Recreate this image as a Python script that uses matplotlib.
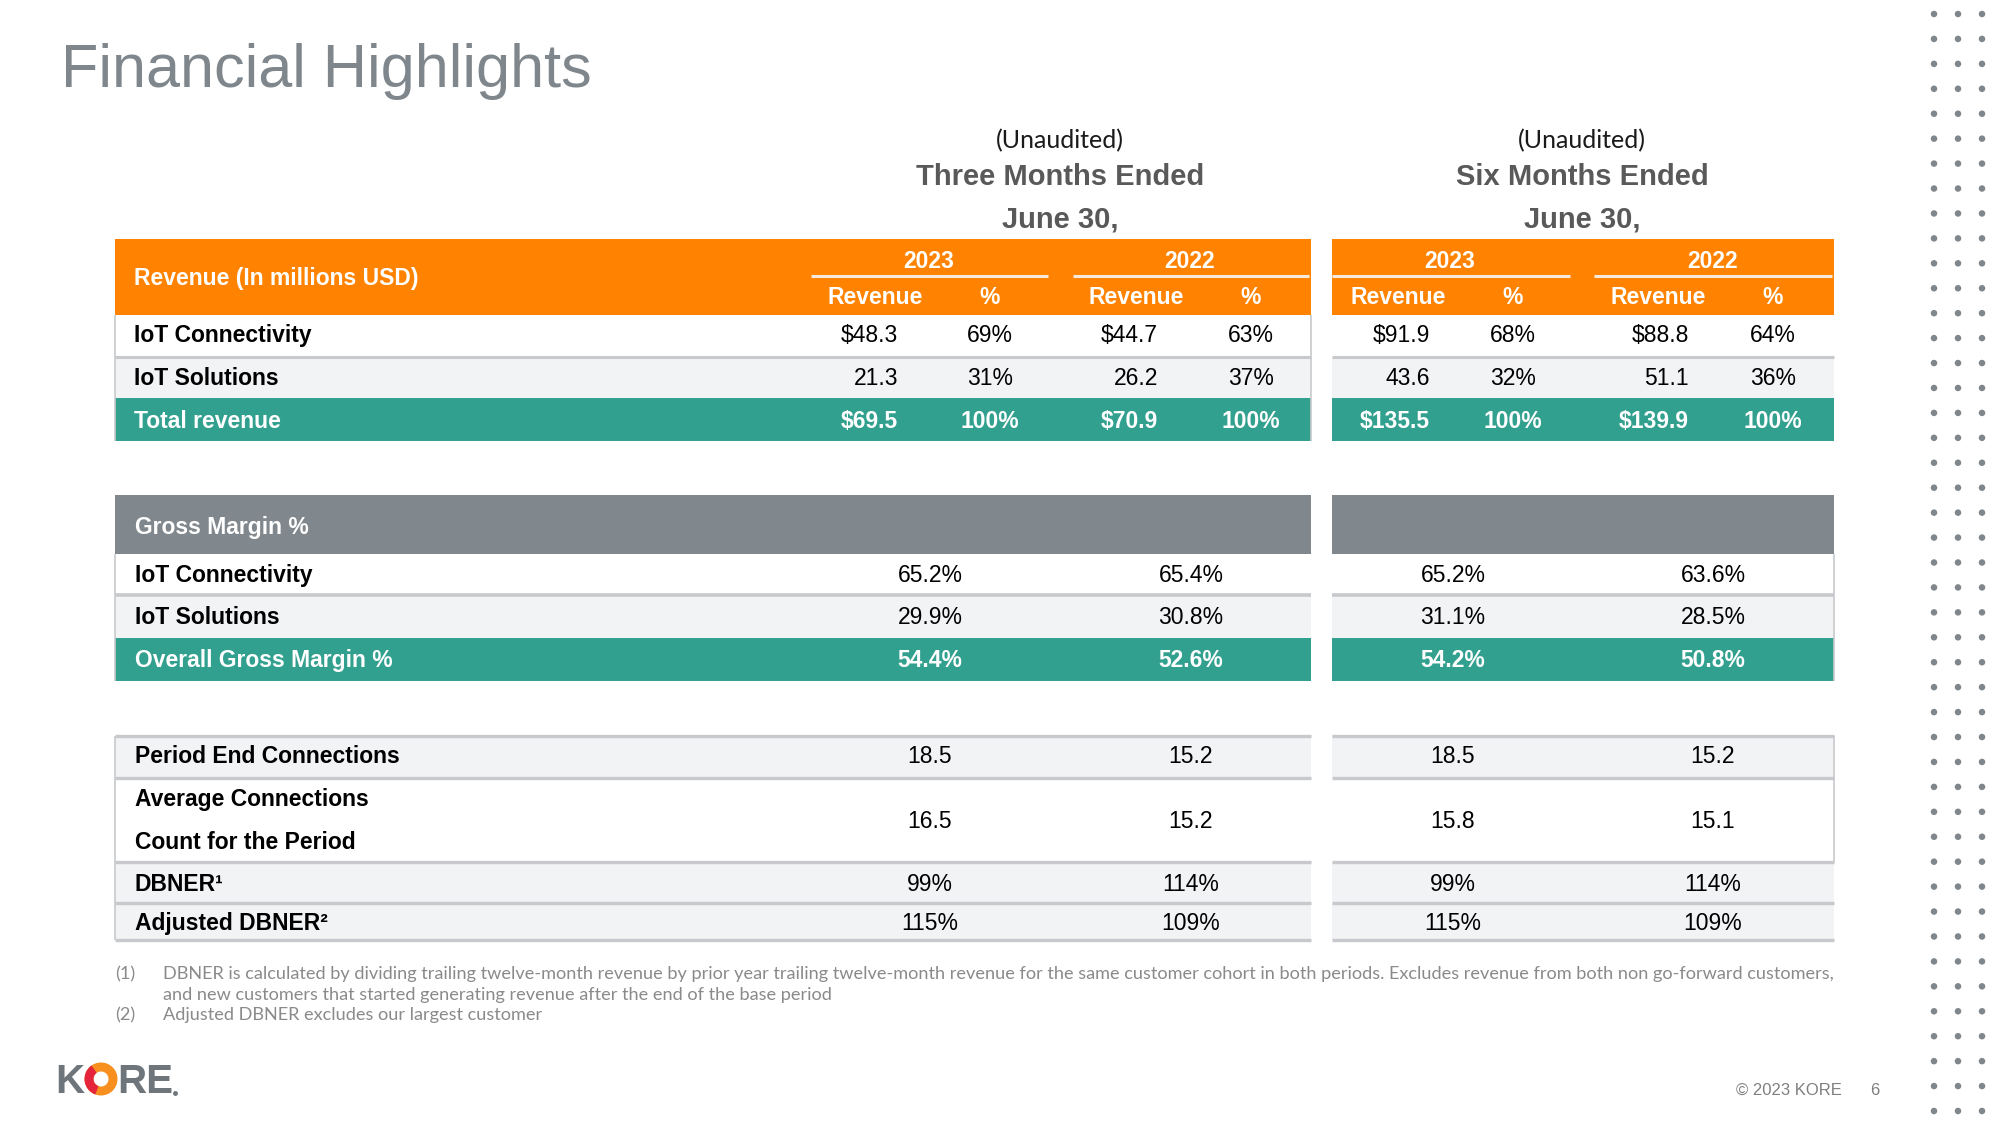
import matplotlib
matplotlib.use("Agg")
import matplotlib.pyplot as plt
from matplotlib.patches import Rectangle, Wedge

# ---------------- data ----------------
title = "Financial Highlights"
unaudited = "(Unaudited)"
period_labels = ["Three Months Ended", "Six Months Ended"]
period_sub = "June 30,"
years = ["2023", "2022", "2023", "2022"]
sub_headers = ["Revenue", "%"]
rev_header = "Revenue (In millions USD)"

rev_rows = ["IoT Connectivity", "IoT Solutions", "Total revenue"]
rev_3m_2023 = [48.3, 21.3, 69.5]
pct_3m_2023 = [69, 31, 100]
rev_3m_2022 = [44.7, 26.2, 70.9]
pct_3m_2022 = [63, 37, 100]
rev_6m_2023 = [91.9, 43.6, 135.5]
pct_6m_2023 = [68, 32, 100]
rev_6m_2022 = [88.8, 51.1, 139.9]
pct_6m_2022 = [64, 36, 100]

gm_header = "Gross Margin %"
gm_rows = ["IoT Connectivity", "IoT Solutions", "Overall Gross Margin %"]
gm_3m_2023 = [65.2, 29.9, 54.4]
gm_3m_2022 = [65.4, 30.8, 52.6]
gm_6m_2023 = [65.2, 31.1, 54.2]
gm_6m_2022 = [63.6, 28.5, 50.8]

kpi_rows = [["Period End Connections"],
            ["Average Connections", "Count for the Period"],
            ["DBNER\u00b9"],
            ["Adjusted DBNER\u00b2"]]
kpi_fmt = ["{:.1f}", "{:.1f}", "{:.0f}%", "{:.0f}%"]
kpi_3m_2023 = [18.5, 16.5, 99, 115]
kpi_3m_2022 = [15.2, 15.2, 114, 109]
kpi_6m_2023 = [18.5, 15.8, 99, 115]
kpi_6m_2022 = [15.2, 15.1, 114, 109]

footnotes = [
    ("(1)", "DBNER is calculated by dividing trailing twelve-month revenue by prior year trailing twelve-month revenue for the same customer cohort in both periods. Excludes revenue from both non go-forward customers,"),
    ("", "and new customers that started generating revenue after the end of the base period"),
    ("(2)", "Adjusted DBNER excludes our largest customer"),
]
copyright_txt = "\u00a9 2023 KORE"
page_no = "6"

# ---------------- style ----------------
ORANGE = "#FF8300"
TEAL = "#32A08F"
GREY_HDR = "#81888D"
LIGHT = "#F2F3F5"
SEP = "#C8C9CC"
TITLE_C = "#7F878C"
SANS = ["Liberation Sans", "DejaVu Sans"]
NARROW = ["Liberation Sans Narrow", "Liberation Sans", "DejaVu Sans"]
TS = 16.5  # table font size

DPI = 100
fig = plt.figure(figsize=(20, 11.25), dpi=DPI)
ax = fig.add_axes([0, 0, 1, 1])
ax.set_xlim(0, 2000)
ax.set_ylim(1125, 0)
ax.axis("off")


def pt2px(pt):
    return pt * DPI / 72.0


def txt(x, yc, s, size=TS, ha="left", color="black", weight="normal",
        family=SANS, cap=0.716, **kw):
    yb = yc + cap * pt2px(size) / 2.0
    return ax.text(x, yb, s, fontsize=size, ha=ha, va="baseline", color=color,
                   fontweight=weight, family=family, **kw)


def rect(x0, y0, x1, y1, color):
    ax.add_patch(Rectangle((x0, y0), x1 - x0, y1 - y0, facecolor=color,
                           edgecolor="none", zorder=1))


def hline(x0, x1, y, color=SEP, lw=2.2):
    ax.plot([x0, x1], [y, y], color=color, lw=lw, solid_capstyle="butt", zorder=2)


def vline(x, y0, y1, color=SEP, lw=1.2):
    ax.plot([x, x], [y0, y1], color=color, lw=lw, solid_capstyle="butt", zorder=2)


# ---------------- title ----------------
ax.text(61, 87, title, fontsize=44, color=TITLE_C, family=SANS, va="baseline", ha="left")

# ---------------- period headers ----------------
period_cx = [1060, 1582]
for cx, lab in zip(period_cx, period_labels):
    txt(cx, 139, unaudited, size=18, ha="center", color="#1a1a1a",
        family=["Lato", "DejaVu Sans"], cap=0.72)
    txt(cx, 175, lab, size=21, ha="center", color="#595959", weight="bold", family=SANS)
    txt(cx, 217, period_sub, size=21, ha="center", color="#595959", weight="bold", family=SANS)

# table geometry
LX0, LX1 = 115, 1311
RX0, RX1 = 1332, 1834
LABEL_X = 134
rev_right = [898, 1158, 1430, 1689]
pct_center = [990, 1251, 1513, 1773]
revhdr_center = [875, 1136, 1398, 1658]
year_center = [929, 1190, 1450, 1713]
underline = [(811, 1048), (1073, 1309), (1332, 1570), (1594, 1832)]
val_center = [930, 1191, 1453, 1713]

# ---------------- revenue table ----------------
for x0, x1 in [(LX0, LX1), (RX0, RX1)]:
    rect(x0, 239, x1, 315, ORANGE)
txt(LABEL_X, 277, rev_header, color="white", weight="bold")
for i in range(4):
    txt(year_center[i], 260, years[i], ha="center", color="white", weight="bold")
    hline(underline[i][0], underline[i][1], 276, color="#F6E9DC", lw=2.2)
    txt(revhdr_center[i], 296, sub_headers[0], ha="center", color="white", weight="bold")
    txt(pct_center[i], 296, sub_headers[1], ha="center", color="white", weight="bold")

rev_cols = [rev_3m_2023, rev_3m_2022, rev_6m_2023, rev_6m_2022]
pct_cols = [pct_3m_2023, pct_3m_2022, pct_6m_2023, pct_6m_2022]
rev_bands = [(315, 357, "white", 334), (357, 398, LIGHT, 377), (398, 441, TEAL, 420)]
for r, (y0, y1, bg, yc) in enumerate(rev_bands):
    for x0, x1 in [(LX0, LX1), (RX0, RX1)]:
        rect(x0, y0, x1, y1, bg)
    total = (r == len(rev_bands) - 1)
    col = "white" if total else "black"
    txt(LABEL_X, yc, rev_rows[r], color=col, weight="bold")
    for i in range(4):
        v = rev_cols[i][r]
        s = ("${:.1f}" if r != 1 else "{:.1f}").format(v)
        txt(rev_right[i], yc, s, ha="right", color=col, weight="bold" if total else "normal")
        txt(pct_center[i], yc, "{:d}%".format(pct_cols[i][r]), ha="center", color=col,
            weight="bold" if total else "normal")
for x0, x1 in [(LX0, LX1), (RX0, RX1)]:
    hline(x0, x1, 357)
vline(LX0, 315, 441)
vline(LX1, 315, 441)

# ---------------- gross margin table ----------------
for x0, x1 in [(LX0, LX1), (RX0, RX1)]:
    rect(x0, 495, x1, 554, GREY_HDR)
txt(LABEL_X + 1, 526, gm_header, color="white", weight="bold")
gm_cols = [gm_3m_2023, gm_3m_2022, gm_6m_2023, gm_6m_2022]
gm_bands = [(554, 594, "white", 574), (596, 638, LIGHT, 616), (638, 681, TEAL, 659)]
for r, (y0, y1, bg, yc) in enumerate(gm_bands):
    for x0, x1 in [(LX0, LX1), (RX0, RX1)]:
        rect(x0, y0, x1, y1, bg)
    total = (r == len(gm_bands) - 1)
    col = "white" if total else "black"
    txt(LABEL_X + 1, yc, gm_rows[r], color=col, weight="bold")
    for i in range(4):
        txt(val_center[i], yc, "{:.1f}%".format(gm_cols[i][r]), ha="center", color=col,
            weight="bold" if total else "normal")
for x0, x1 in [(LX0, LX1), (RX0, RX1)]:
    hline(x0, x1, 595, lw=2.6)
vline(LX0, 554, 681)
vline(RX1, 554, 681)

# ---------------- KPI table ----------------
kpi_cols = [kpi_3m_2023, kpi_3m_2022, kpi_6m_2023, kpi_6m_2022]
kpi_bands = [(736, 778, LIGHT, [755], 755),
             (778, 862, "white", [798, 841], 820),
             (863, 903, LIGHT, [883], 883),
             (904, 940, LIGHT, [922], 922)]
for r, (y0, y1, bg, ylab, yval) in enumerate(kpi_bands):
    for x0, x1 in [(LX0, LX1), (RX0, RX1)]:
        rect(x0, y0, x1, y1, bg)
    for line, yl in zip(kpi_rows[r], ylab):
        txt(LABEL_X + 1, yl, line, color="black", weight="bold")
    for i in range(4):
        txt(val_center[i], yval, kpi_fmt[r].format(kpi_cols[i][r]), ha="center", color="black")
for y in [736, 778, 862, 903, 940]:
    for x0, x1 in [(LX0, LX1), (RX0, RX1)]:
        hline(x0, x1, y, lw=2.4)
vline(LX0, 736, 940)
vline(RX1, 736, 862)

# ---------------- footnotes ----------------
fn_y = [973, 994, 1014]
FN_C = "#8A8A8A"
FN_FAM = ["Lato", "DejaVu Sans"]
objs = []
for (num, body), yc in zip(footnotes, fn_y):
    if num:
        objs.append(txt(115, yc, num, size=12, color=FN_C, family=FN_FAM))
    objs.append(txt(163, yc, body, size=12, color=FN_C, family=FN_FAM))
renderer = fig.canvas.get_renderer()
w = objs[1].get_window_extent(renderer=renderer).width
scale = (1832 - 163) / w
for o in objs:
    o.set_fontsize(12 * scale)

# ---------------- footer ----------------
txt(1842, 1089, copyright_txt, size=12, ha="right", color="#7F7F7F")
txt(1875, 1089, page_no, size=12, ha="center", color="#7F7F7F")

# logo
LOGO_G = "#6E757B"
txt(84, 1079, "K", size=29, ha="right", color=LOGO_G, weight="bold", family=NARROW)
cx, cy, ro, ri = 101, 1079, 16.5, 7.5
ax.add_patch(Wedge((cx, cy), ro, 0, 360, width=ro - ri, facecolor="#F7901E",
                   edgecolor="none", zorder=3))
ax.add_patch(Wedge((cx, cy), ro, 110, 235, width=ro - ri, facecolor="#E4253B",
                   edgecolor="none", zorder=4))
txt(117, 1079, "RE", size=29, ha="left", color=LOGO_G, weight="bold", family=NARROW)
ax.plot([175], [1093], marker="o", ms=2.5, color=LOGO_G, zorder=4)

# decorative dot grid
dot_x = [1934, 1958, 1982]
n_rows = 45
for k in range(n_rows):
    y = 14 + k * (1111 - 14) / (n_rows - 1)
    ax.scatter(dot_x, [y] * 3, s=22, color=TITLE_C, edgecolors="none", zorder=2)

fig.savefig("out.png", dpi=DPI)
